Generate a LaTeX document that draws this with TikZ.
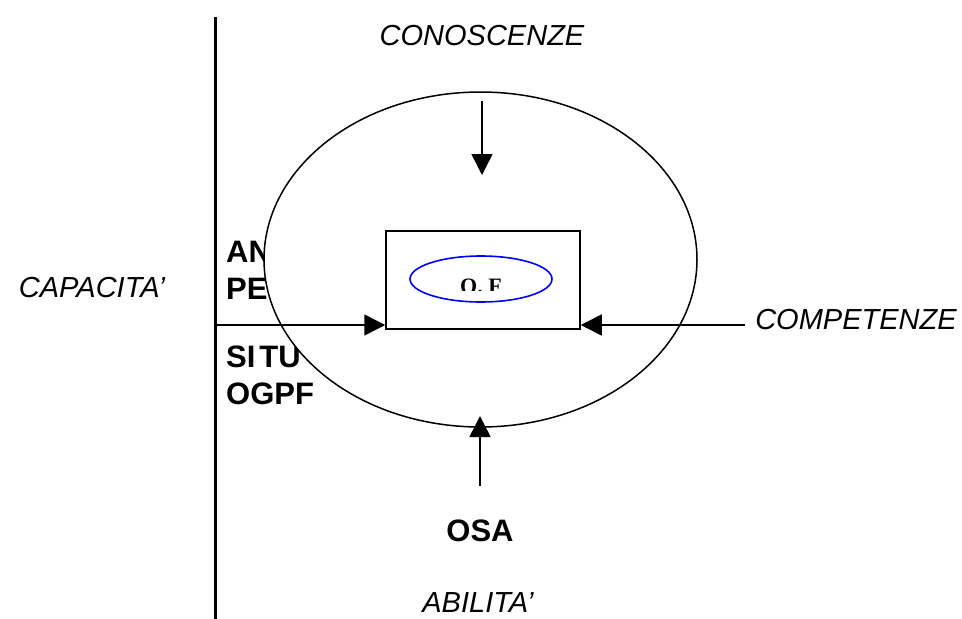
\documentclass[tikz,border=0pt]{standalone}
\usepackage{fontspec}
\setmainfont{Liberation Sans}
\newfontfamily\timesfont{Liberation Serif}
\usetikzlibrary{shapes, arrows.meta, positioning}

\tikzset{
  freccia/.style={-{Triangle[length=21pt, width=21pt]}, line width=1.5pt},
  voce/.style={font=\fontsize{29}{34}\selectfont\itshape, inner sep=0pt},
  grassetto/.style={font=\fontsize{31}{37}\selectfont\bfseries, inner sep=0pt, anchor=base west},
}

\begin{document}
\begin{tikzpicture}[x=1pt, y=-1pt]
    \useasboundingbox (0, 0) rectangle (962, 619);
    \draw[line width=3pt](215, 17)--(215, 619);

    % testi a sinistra, coperti in parte dall'ellisse
    \node[grassetto] (an) at (226, 262){AN};
    \node[grassetto] (pe) at (226, 299){PE};
    \node[grassetto] (situ) at (226, 367){SI\kern4pt TU};
    \node[grassetto] (ogpf) at (226, 404){OGPF};

    \node[draw, ellipse, fill=white, line width=1.5pt, inner sep=0pt,
          minimum width=433pt, minimum height=335pt] (sfera) at (480.5, 259.5){};
    \node[draw, fill=white, line width=1.5pt, minimum width=194pt, minimum height=98pt] (riquadro) at (483, 280){};
    \node[draw=blue, ellipse, line width=1.6pt, inner sep=0pt,
          minimum width=142pt, minimum height=46pt] (of) at (481, 279){};
    \begin{scope}
        \clip (420, 262) rectangle (545, 290);
        \node[font=\timesfont\bfseries\fontsize{22}{26}\selectfont, inner sep=0pt, anchor=base] (oftesto) at (481, 293){O. F};
    \end{scope}

    \node[voce] (conoscenze) at (482, 36){CONOSCENZE};
    \node[voce] (capacita) at (92, 288){CAPACITA'};
    \node[voce] (competenze) at (856, 320){COMPETENZE};
    \node[font=\fontsize{31}{37}\selectfont\bfseries, inner sep=0pt] (osa) at (480, 531){OSA};
    \node[voce] (abilita) at (478, 603){ABILITA'};

    \coordinate (alto) at (482, 101);
    \coordinate (altofine) at (482, 175);
    \coordinate (sx) at (215, 325);
    \coordinate (dx) at (745, 325);
    \coordinate (basso) at (480, 486);
    \coordinate (bassofine) at (480, 416);

    \draw[freccia](alto)--(altofine);
    \draw[freccia](sx)--(riquadro.south west |- sx);
    \draw[freccia](dx)--(riquadro.south east |- dx);
    \draw[freccia](basso)--(bassofine);
\end{tikzpicture}
\end{document}
